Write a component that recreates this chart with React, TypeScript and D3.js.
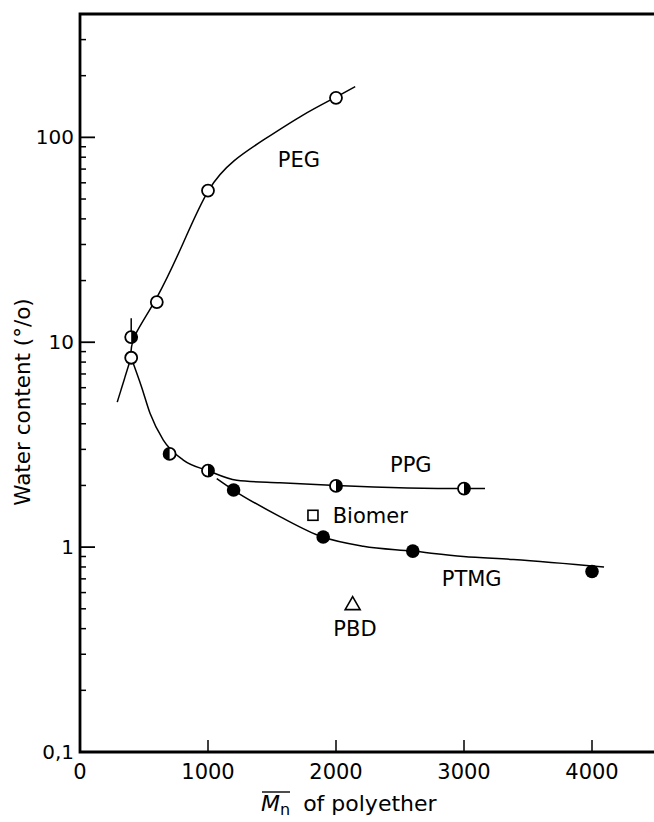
import React from "react";
import * as d3 from "d3";

// Mn of polyether vs water content (%), log scale
const pegPoints = [
  [600, 15.7],
  [1000, 55],
  [2000, 156],
];
const pegOpenLow = [[400, 8.4]];
const ppgPoints = [
  [400, 10.6],
  [700, 2.85],
  [1000, 2.36],
  [2000, 1.99],
  [3000, 1.93],
];
const ppgLeftFilled = [false, true, false, false, false];
const ptmgPoints = [
  [1200, 1.9],
  [1900, 1.12],
  [2600, 0.956],
  [4000, 0.76],
];
const biomerPoint = [1820, 1.43];
const pbdPoint = [2130, 0.53];

// traced fitted curves
const pegCurve = [
  [398, 8.8],
  [405, 10.6],
  [600, 16],
  [807, 30.3],
  [1000, 58],
  [1200, 78],
  [1432, 97],
  [1745, 130],
  [2000, 157],
  [2150, 177],
];
const pegTail = [
  [291, 5.1],
  [398, 8.4],
];
const ppgCurve = [
  [400, 8.4],
  [481, 6.05],
  [547, 4.5],
  [651, 3.33],
  [807, 2.66],
  [1000, 2.36],
  [1224, 2.12],
  [1562, 2.06],
  [2000, 2.0],
  [3000, 1.93],
  [3164, 1.93],
];
const ptmgCurve = [
  [1068, 2.16],
  [1198, 1.9],
  [1562, 1.41],
  [1896, 1.12],
  [2213, 1.01],
  [2596, 0.956],
  [2995, 0.9],
  [3385, 0.87],
  [4094, 0.8],
];

const labels = [
  { text: "PEG", x: 1545, y: 71.7 },
  { text: "PPG", x: 2422, y: 2.33 },
  { text: "Biomer", x: 1974, y: 1.305 },
  { text: "PTMG", x: 2826, y: 0.646 },
];
const pbdLabel = { text: "PBD", x: 2148, y: 0.368 };

const xTicks = [0, 1000, 2000, 3000, 4000];
const yMajor = [0.1, 1, 10, 100];
const yLabels = ["0,1", "1", "10", "100"];

const W = 654;
const H = 822;
const FONT = "DejaVu Sans";

export default function App() {
  const x = d3.scaleLinear().domain([0, 4000]).range([80, 592]);
  const y = d3.scaleLog().domain([0.1, 400]).range([752, 14]);

  const smooth = d3
    .line<number[]>()
    .x((d) => x(d[0]))
    .y((d) => y(d[1]))
    .curve(d3.curveBasis);
  const line = d3
    .line<number[]>()
    .x((d) => x(d[0]))
    .y((d) => y(d[1]))
    .curve(d3.curveMonotoneX);

  const minor = y.ticks().filter((t) => !yMajor.includes(t) && t < 400);

  const left = x(0);
  const bottom = y(0.1);
  const top = y(400);
  const r = 6;

  const halfPath = (cx: number, cy: number, leftSide: boolean) =>
    `M${cx},${cy - r}A${r},${r} 0 0 ${leftSide ? 0 : 1} ${cx},${cy + r}Z`;

  return (
    <svg
      width={W}
      height={H}
      style={{ position: "absolute", left: 0, top: 0, background: "#fff" }}
      fontFamily={FONT}
    >
      <rect width={W} height={H} fill="#fff" />

      {/* frame */}
      <path
        d={`M${W},${top}H${left}V${bottom}H${W}`}
        fill="none"
        stroke="#000"
        strokeWidth={2.8}
      />

      {/* y ticks */}
      {yMajor.map((t, i) => (
        <g key={"ym" + t}>
          <line x1={left} x2={left + 15} y1={y(t)} y2={y(t)} stroke="#000" strokeWidth={1.8} />
          <text
            x={left - 6}
            y={y(t)}
            textAnchor="end"
            dominantBaseline="central"
            fontSize={20}
          >
            {yLabels[i]}
          </text>
        </g>
      ))}
      {minor.map((t) => (
        <line key={"yn" + t} x1={left} x2={left + 6} y1={y(t)} y2={y(t)} stroke="#000" strokeWidth={1.5} />
      ))}

      {/* x ticks */}
      {xTicks.map((t) => (
        <g key={"xt" + t}>
          {t > 0 && (
            <line x1={x(t)} x2={x(t)} y1={bottom} y2={bottom - 12} stroke="#000" strokeWidth={1.5} />
          )}
          <text x={x(t)} y={bottom + 27} textAnchor="middle" fontSize={21}>
            {t}
          </text>
        </g>
      ))}

      {/* axis titles */}
      <text
        transform={`translate(22,${402}) rotate(-90)`}
        textAnchor="middle"
        dominantBaseline="central"
        fontSize={21.5}
      >
        Water content (°/o)
      </text>
      <g>
        <text x={261} y={811} fontSize={22}>
          <tspan fontStyle="italic">M</tspan>
          <tspan dy={4} fontSize={16}>
            n
          </tspan>
          <tspan dy={-4} dx={13}>
            of polyether
          </tspan>
        </text>
        <line x1={262} x2={290} y1={792} y2={792} stroke="#000" strokeWidth={1.4} />
      </g>

      {/* curves */}
      <path d={smooth(pegCurve) || ""} fill="none" stroke="#000" strokeWidth={1.5} />
      {[pegTail, ppgCurve, ptmgCurve].map((c, i) => (
        <path key={"c" + i} d={line(c) || ""} fill="none" stroke="#000" strokeWidth={1.5} />
      ))}
      <line
        x1={x(400)}
        x2={x(400)}
        y1={y(13.1)}
        y2={y(11.3)}
        stroke="#000"
        strokeWidth={1.5}
      />

      {/* PEG open circles */}
      {pegPoints.concat(pegOpenLow).map((d, i) => (
        <circle key={"peg" + i} cx={x(d[0])} cy={y(d[1])} r={r} fill="#fff" stroke="#000" strokeWidth={1.8} />
      ))}

      {/* PPG half filled */}
      {ppgPoints.map((d, i) => (
        <g key={"ppg" + i}>
          <circle cx={x(d[0])} cy={y(d[1])} r={r} fill="#fff" stroke="#000" strokeWidth={1.8} />
          <path d={halfPath(x(d[0]), y(d[1]), ppgLeftFilled[i])} fill="#000" />
        </g>
      ))}

      {/* PTMG filled */}
      {ptmgPoints.map((d, i) => (
        <circle key={"ptmg" + i} cx={x(d[0])} cy={y(d[1])} r={6.8} fill="#000" />
      ))}

      {/* Biomer square */}
      <rect
        x={x(biomerPoint[0]) - 5}
        y={y(biomerPoint[1]) - 5}
        width={10}
        height={10}
        fill="#fff"
        stroke="#000"
        strokeWidth={1.6}
      />

      {/* PBD triangle */}
      <path
        d={`M${x(pbdPoint[0])},${y(pbdPoint[1]) - 7}l7.5,13h-15Z`}
        fill="#fff"
        stroke="#000"
        strokeWidth={1.6}
      />

      {labels.map((l) => (
        <text key={l.text} x={x(l.x)} y={y(l.y)} fontSize={21}>
          {l.text}
        </text>
      ))}
      <text x={x(pbdLabel.x)} y={y(pbdLabel.y)} fontSize={21} textAnchor="middle">
        {pbdLabel.text}
      </text>
    </svg>
  );
}
